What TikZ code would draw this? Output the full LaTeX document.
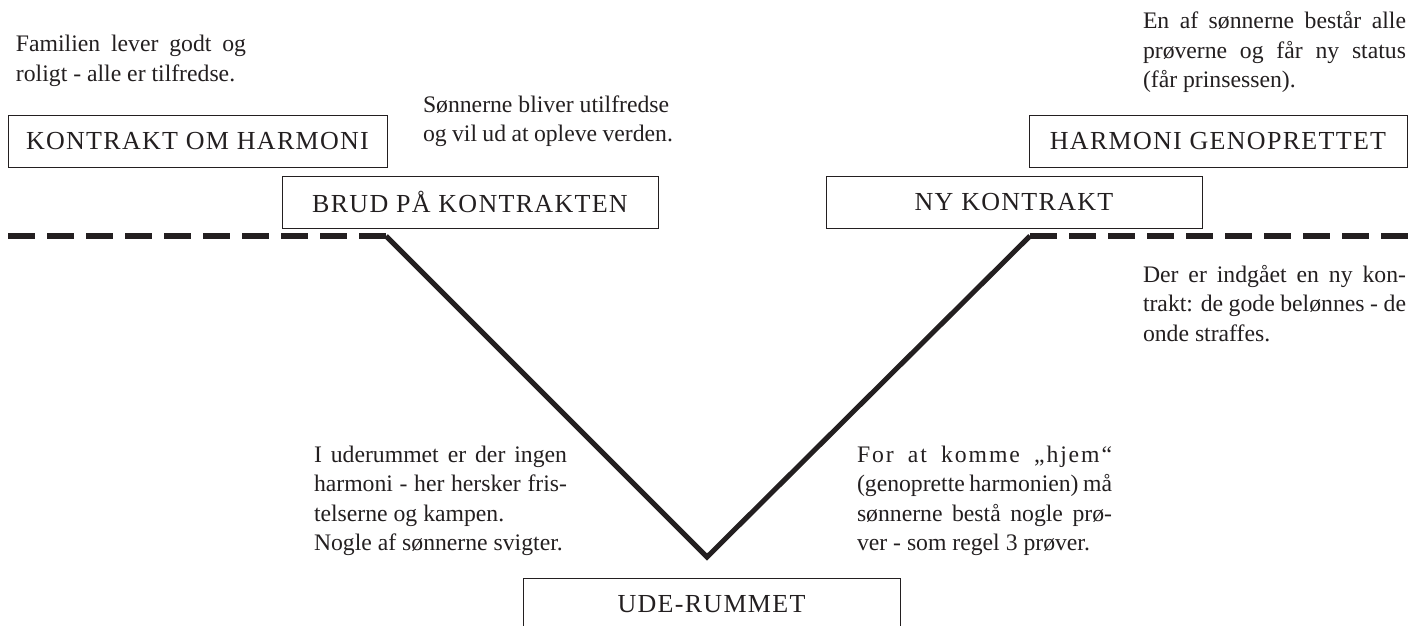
\documentclass[tikz,border=0pt]{standalone}
\usepackage{fontspec}
\newfontfamily\bodyf{Liberation Serif}
\newfontfamily\capsf[LetterSpace=5]{Liberation Serif}
\definecolor{ink}{HTML}{231F20}
\newcommand{\jline}[1]{\makebox[\linewidth][s]{#1}\\}
\tikzset{
  hbox/.style={draw=ink, line width=0.9pt, minimum height=52pt, inner sep=0pt,
    text=ink, font=\capsf\fontsize{26}{30}\selectfont},
  txt/.style={anchor=base west, inner sep=0pt, outer sep=0pt, text=ink,
    font=\bodyf\fontsize{23.7}{29.5}\selectfont},
  dashline/.style={draw=ink, line width=6pt, dash pattern=on 27pt off 12pt},
  vline/.style={draw=ink, line width=5pt, line join=miter}
}
\begin{document}
\begin{tikzpicture}[x=1pt,y=-1pt]
\useasboundingbox (0,0) rectangle (1418,626);
\clip (0,0) rectangle (1418,626);

% boxes
\node[hbox, minimum width=379pt] (kontrakt) at (197.5,141) {KONTRAKT OM HARMONI};
\node[hbox, minimum width=376pt] (brud) at (470,202) {BRUD PÅ KONTRAKTEN};
\node[hbox, minimum width=376pt] (ny) at (1014,202) {NY KONTRAKT};
\node[hbox, minimum width=378pt] (genop) at (1218,141) {HARMONI GENOPRETTET};
\node[hbox, minimum width=377pt] (ude) at (711.5,604) {UDE-RUMMET};

% texts
\node[txt] (t1) at (16,52) {\parbox[t]{230pt}{\jline{Familien lever godt og}roligt - alle er tilfredse.}};
\node[txt] (t2) at (423,112) {\parbox[t]{250pt}{Sønnerne bliver utilfredse\\og vil ud at opleve verden.}};
\node[txt] (t3) at (1143,29) {\parbox[t]{263pt}{\jline{En af sønnerne består alle}\jline{prøverne og får ny status}(får prinsessen).}};
\node[txt] (t4) at (1143,282) {\parbox[t]{263pt}{\jline{Der er indgået en ny kon-}\jline{trakt: de gode belønnes - de}onde straffes.}};
\node[txt] (t5) at (314,462) {\parbox[t]{253pt}{\jline{I uderummet er der ingen}\jline{harmoni - her hersker fris-}telserne og kampen.\\Nogle af sønnerne svigter.}};
\node[txt] (t6) at (857,462) {\parbox[t]{255pt}{\jline{\addfontfeature{LetterSpace=8}For at komme „hjem“}\jline{(genoprette harmonien) må}\jline{sønnerne bestå nogle prø-}ver - som regel 3 prøver.}};

% lines
\coordinate (dl0) at (8,236);
\coordinate (dl1) at (386,236);
\coordinate (vb) at (707,557);
\coordinate (dr1) at (1030,236);
\coordinate (dr2) at (1410,236);
\draw[dashline] (dl0) -- (dl1);
\draw[dashline] (dr1) -- (dr2);
\draw[vline] (dl1) -- (vb) -- (dr1);
\end{tikzpicture}
\end{document}
